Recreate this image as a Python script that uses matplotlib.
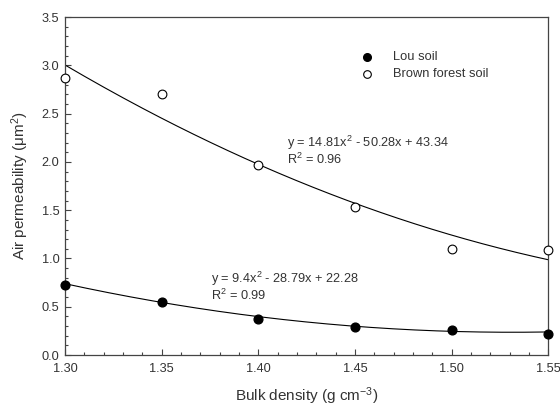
import matplotlib
matplotlib.use("Agg")
from matplotlib import pyplot as plt
from matplotlib.ticker import MultipleLocator, FormatStrFormatter
import numpy as np

plt.rcParams["font.family"] = ["Liberation Sans", "DejaVu Sans"]
plt.rcParams["mathtext.fontset"] = "custom"
plt.rcParams["mathtext.rm"] = "Liberation Sans"
plt.rcParams["mathtext.it"] = "Liberation Sans"

#DATA:
bulk_density = [1.30, 1.35, 1.40, 1.45, 1.50, 1.55]
lou_soil = [0.73, 0.55, 0.37, 0.29, 0.26, 0.22]
brown_forest_soil = [2.87, 2.70, 1.97, 1.53, 1.10, 1.09]

# quadratic fits as printed on the chart (a, b, c)
lou_fit = [9.4, -28.79, 22.28]
brown_fit = [14.81, -50.28, 43.34]

textcol = "#333333"

fig, ax = plt.subplots(figsize=(5.6, 4.09), dpi=100)
fig.subplots_adjust(left=0.116, right=0.979, bottom=0.132, top=0.958)

xfit = np.linspace(bulk_density[0], bulk_density[-1], 200)
ax.plot(xfit, np.polyval(brown_fit, xfit), color="black", linewidth=0.8)
ax.plot(xfit, np.polyval(lou_fit, xfit), color="black", linewidth=0.8)

ax.plot(bulk_density, lou_soil, "o", color="black", markersize=6.3, clip_on=False, zorder=5)
ax.plot(bulk_density, brown_forest_soil, "o", markerfacecolor="white", markeredgecolor="black",
        markeredgewidth=0.8, markersize=6.3, clip_on=False, zorder=5)

ax.set_xlim(1.30, 1.55)
ax.set_ylim(0, 3.5)
ax.xaxis.set_major_locator(MultipleLocator(0.05))
ax.xaxis.set_minor_locator(MultipleLocator(0.01))
ax.yaxis.set_major_locator(MultipleLocator(0.5))
ax.yaxis.set_minor_locator(MultipleLocator(0.1))
ax.xaxis.set_major_formatter(FormatStrFormatter("%.2f"))
ax.yaxis.set_major_formatter(FormatStrFormatter("%.1f"))
ax.tick_params(which="major", direction="in", length=4, width=0.8, color="#444444",
               labelsize=9.2, labelcolor=textcol)
ax.tick_params(axis="x", which="major", pad=6)
ax.tick_params(axis="y", which="major", pad=4)
ax.tick_params(which="minor", direction="in", length=2.5, width=0.8, color="#444444")
for s in ax.spines.values():
    s.set_color("#444444")
    s.set_linewidth(0.9)

ax.set_xlabel("Bulk density (g cm$^{-3}$)", fontsize=11, color=textcol, labelpad=7)
ax.set_ylabel("Air permeability (μm$^2$)", fontsize=11, color=textcol, labelpad=8)

# legend drawn by hand to mimic SigmaPlot look
ax.plot([1.4563], [3.085], "o", color="black", markersize=5.5)
ax.text(1.4698, 3.085, "Lou soil", fontsize=9.3, color=textcol, va="center")
ax.plot([1.4563], [2.91], "o", markerfacecolor="white", markeredgecolor="black",
        markeredgewidth=0.8, markersize=5.5)
ax.text(1.4698, 2.91, "Brown forest soil", fontsize=9.3, color=textcol, va="center")

ax.text(1.4149, 2.29, "y = 14.81x$^2$ - 50.28x + 43.34\nR$^2$ = 0.96", fontsize=9.2,
        color=textcol, va="top", linespacing=0.95)
ax.text(1.3756, 0.88, "y = 9.4x$^2$ - 28.79x + 22.28\nR$^2$ = 0.99", fontsize=9.2,
        color=textcol, va="top", linespacing=0.95)

plt.savefig("out.png", dpi=100)
plt.close()
